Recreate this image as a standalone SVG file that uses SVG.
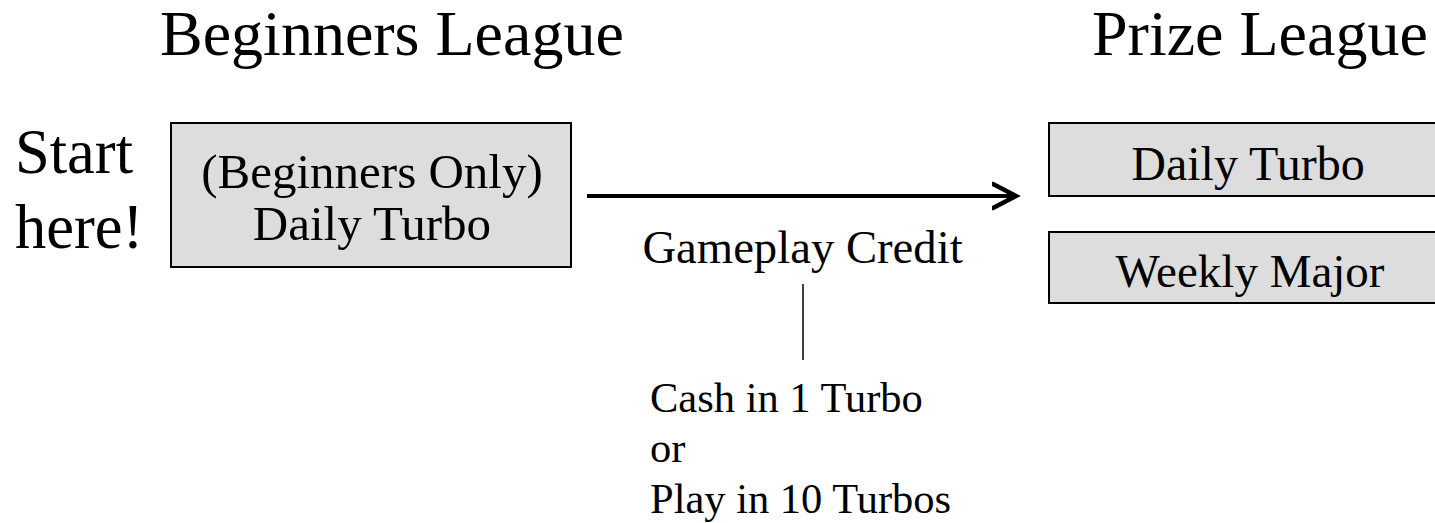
<svg xmlns="http://www.w3.org/2000/svg" width="1435" height="523" viewBox="0 0 1435 523">
<style>
text{font-family:"Liberation Serif","Times New Roman",serif;fill:#000}
.box{fill:#dddddd;stroke:#000;stroke-width:2}
.title{font-size:64px}
.start{font-size:62.5px}
.lbl{font-size:48px;text-anchor:middle}
.note{font-size:42.5px}
</style>
<defs>
<marker id="chev" markerUnits="userSpaceOnUse" markerWidth="30" markerHeight="30" refX="24" refY="15" orient="auto" viewBox="0 0 30 30">
<polyline points="1,3 24,15 1,27" fill="none" stroke="#000" stroke-width="4.5" stroke-linejoin="miter" stroke-linecap="round"/>
</marker>
</defs>
<rect width="1435" height="523" fill="#fff"/>
<g id="titles">
<text class="title" x="160" y="55">Beginners League</text>
<text class="title" x="1092" y="55">Prize League</text>
</g>
<g id="start">
<text class="start" x="15" y="173">Start</text>
<text class="start" x="15" y="248">here!</text>
</g>
<g id="beginners-daily-turbo">
<rect class="box" x="171" y="123" width="400" height="144"/>
<text class="lbl" x="372" y="188" style="font-size:49px">(Beginners Only)</text>
<text class="lbl" x="372" y="240" style="font-size:49px">Daily Turbo</text>
</g>
<g id="prize-daily-turbo">
<rect class="box" x="1049" y="123" width="400" height="73"/>
<text class="lbl" x="1248" y="180">Daily Turbo</text>
</g>
<g id="prize-weekly-major">
<rect class="box" x="1049" y="232" width="400" height="71"/>
<text class="lbl" x="1250" y="287" style="font-size:47px">Weekly Major</text>
</g>
<g id="connectors">
<line x1="587" y1="196" x2="1016" y2="196" stroke="#000" stroke-width="4" marker-end="url(#chev)"/>
<line x1="803" y1="284" x2="803" y2="360" stroke="#000" stroke-width="1.5"/>
</g>
<g id="gameplay-credit">
<text class="lbl" x="802.5" y="263" style="font-size:46.7px">Gameplay Credit</text>
</g>
<g id="credit-note">
<text class="note" x="650" y="412">Cash in 1 Turbo</text>
<text class="note" x="650" y="462">or</text>
<text class="note" x="650" y="513">Play in 10 Turbos</text>
</g>
</svg>
